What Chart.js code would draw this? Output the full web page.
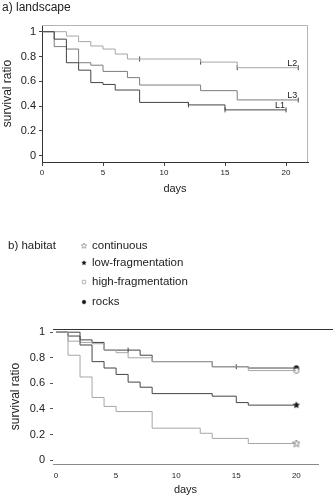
<!DOCTYPE html>
<html lang="en">
<head>
<meta charset="UTF-8">
<title>Survival ratio - landscape and habitat</title>
<script src="https://cdn.jsdelivr.net/npm/chart.js"></script>
<style>
  html, body { margin: 0; padding: 0; background: #fff; }
  body { width: 333px; height: 500px; position: relative; overflow: hidden; }
  .box { position: absolute; left: 0; width: 333px; }
  #boxA { top: 0; height: 200px; }
  #boxB { top: 225px; height: 275px; }
</style>
</head>
<body>
<div class="box" id="boxA"><canvas id="chartA"></canvas></div>
<div class="box" id="boxB"><canvas id="chartB"></canvas></div>

<script>
// ---- data ----
const xTicks = [0, 5, 10, 15, 20];
const yTicks = [0, 0.2, 0.4, 0.6, 0.8, 1];

// a) landscape
const l1Days = [0, 1, 2, 3, 4, 5, 6, 8, 12, 15, 20];
const l1Surv = [1, 0.94, 0.75, 0.69, 0.59, 0.575, 0.53, 0.43, 0.41, 0.37, 0.37];
const l2Days = [0, 2, 3, 4, 5, 6, 7, 13, 16, 21];
const l2Surv = [1, 0.965, 0.92, 0.885, 0.86, 0.82, 0.78, 0.755, 0.71, 0.71];
const l3Days = [0, 1, 2, 3, 4, 5, 7, 8, 13, 16, 21];
const l3Surv = [1, 0.88, 0.86, 0.75, 0.73, 0.68, 0.63, 0.57, 0.525, 0.45, 0.45];
const l1Cens = [12, 15, 20];
const l2Cens = [8, 13, 16, 21];
const l3Cens = [21];

// b) habitat
const habitatNames = ['continuous', 'low-fragmentation', 'high-fragmentation', 'rocks'];
const contDays = [0, 1, 2, 3, 4, 5, 8, 12, 13, 16, 20];
const contSurv = [1, 0.82, 0.65, 0.49, 0.42, 0.38, 0.25, 0.21, 0.17, 0.13, 0.13];
const lowDays = [0, 1, 2, 3, 4, 5, 6, 7, 8, 13, 15, 16, 20];
const lowSurv = [1, 0.97, 0.90, 0.77, 0.72, 0.67, 0.61, 0.57, 0.52, 0.50, 0.45, 0.43, 0.43];
const highDays = [0, 1, 2, 3, 4, 5, 6, 8, 13, 16, 20];
const highSurv = [1, 0.93, 0.92, 0.91, 0.86, 0.84, 0.80, 0.77, 0.73, 0.70, 0.70];
const rockDays = [0, 2, 3, 4, 7, 8, 13, 16, 20];
const rockSurv = [1, 0.94, 0.92, 0.86, 0.82, 0.77, 0.73, 0.72, 0.72];
const highCens = [15];
const rockCens = [6];

// ---- helpers ----
const FONT = "'Liberation Sans', Arial, sans-serif";
const light = '#a6a6a6', mid = '#7c7c7c', dark = '#454545';

function steps(days, vals) {
  return days.map((d, i) => ({ x: d, y: vals[i] }));
}
function valueAt(days, vals, day) {
  let v = vals[0];
  days.forEach((d, i) => { if (d <= day) v = vals[i]; });
  return v;
}
function curve(label, days, vals, color) {
  return { type: 'line', label, data: steps(days, vals), stepped: true,
    borderColor: color, borderWidth: 1, pointRadius: 0, fill: false };
}
function censor(days, vals, cens, color) {
  return { type: 'scatter', data: cens.map(d => ({ x: d, y: valueAt(days, vals, d) })),
    pointStyle: 'line', rotation: 90, pointRadius: 2.5, borderColor: color, borderWidth: 1 };
}
// "1", "0.8" ... "0" like the original axis
const tickText = v => String(+v.toFixed(1));

function makeMarker(kind, filled, size) {
  const c = document.createElement('canvas');
  c.width = size; c.height = size;
  const g = c.getContext('2d');
  g.translate(size / 2, size / 2);
  g.beginPath();
  if (kind === 'star') {
    for (let i = 0; i < 10; i++) {
      const r = i % 2 ? size * 0.22 : size * 0.48;
      const a = -Math.PI / 2 + i * Math.PI / 5;
      g.lineTo(r * Math.cos(a), r * Math.sin(a));
    }
  } else {
    g.arc(0, 0, size * 0.33, 0, Math.PI * 2);
  }
  g.closePath();
  if (filled) { g.fillStyle = '#111'; g.fill(); }
  else { g.fillStyle = '#fff'; g.fill(); g.strokeStyle = '#666'; g.lineWidth = 0.8; g.stroke(); }
  return c;
}

// ---- a) landscape ----
const landscapeLabels = {
  id: 'landscapeLabels',
  afterDraw(chart) {
    const { ctx, chartArea: a, scales: { x, y } } = chart;
    ctx.save();
    ctx.strokeStyle = '#b4b4b4';
    ctx.lineWidth = 1;
    ctx.beginPath();
    ctx.moveTo(a.left, a.top + 0.5);
    ctx.lineTo(a.right - 0.5, a.top + 0.5);
    ctx.lineTo(a.right - 0.5, a.bottom);
    ctx.stroke();
    ctx.fillStyle = '#222';
    ctx.textBaseline = 'middle';
    ctx.font = '12px ' + FONT;
    ctx.fillText('a) landscape', 2, 8);
    ctx.font = '9px ' + FONT;
    [['L1', l1Days, l1Surv], ['L2', l2Days, l2Surv], ['L3', l3Days, l3Surv]].forEach(([t, d, v]) => {
      const px = x.getPixelForValue(d[d.length - 1]);
      const py = y.getPixelForValue(v[v.length - 1]);
      ctx.fillText(t, px - 11, py - 4.5);
    });
    ctx.restore();
  }
};

new Chart(document.getElementById('chartA'), {
  data: {
    datasets: [
      curve('L1', l1Days, l1Surv, dark),
      curve('L2', l2Days, l2Surv, light),
      curve('L3', l3Days, l3Surv, mid),
      censor(l1Days, l1Surv, l1Cens, dark),
      censor(l2Days, l2Surv, l2Cens, dark),
      censor(l3Days, l3Surv, l3Cens, dark)
    ]
  },
  options: {
    responsive: true,
    maintainAspectRatio: false,
    animation: false,
    layout: { padding: { top: 25, right: 25, left: 0, bottom: 0 } },
    plugins: { legend: { display: false }, tooltip: { enabled: false } },
    scales: {
      x: {
        type: 'linear', min: 0, max: 21.8,
        afterBuildTicks: s => { s.ticks = xTicks.map(v => ({ value: v })); },
        afterFit: s => { s.height = 38; },
        ticks: { font: { family: FONT, size: 8 }, color: '#222', padding: 2, maxRotation: 0 },
        grid: { drawOnChartArea: false, tickLength: 4, color: '#444' },
        border: { color: '#333' },
        title: { display: true, text: 'days', color: '#222', font: { family: FONT, size: 11 }, padding: { top: 0, bottom: 4 } }
      },
      y: {
        type: 'linear', min: -0.05, max: 1.054,
        afterBuildTicks: s => { s.ticks = yTicks.map(v => ({ value: v })); },
        afterFit: s => { s.width = 42; },
        ticks: { font: { family: FONT, size: 11 }, color: '#222', padding: 3, callback: tickText },
        grid: { drawOnChartArea: false, tickLength: 3, color: '#444' },
        border: { color: '#333' },
        title: { display: true, text: 'survival ratio', color: '#222', font: { family: FONT, size: 12 }, padding: { top: 0, bottom: 0 } }
      }
    }
  },
  plugins: [landscapeLabels]
});

// ---- b) habitat ----
const markers = [
  makeMarker('star', false, 8),
  makeMarker('star', true, 8),
  makeMarker('circle', false, 8),
  makeMarker('circle', true, 8)
];
const habitatSeries = [
  [contDays, contSurv, light],
  [lowDays, lowSurv, dark],
  [highDays, highSurv, light],
  [rockDays, rockSurv, dark]
];

const habitatLegend = {
  id: 'habitatLegend',
  afterDraw(chart) {
    const { ctx, chartArea: a } = chart;
    ctx.save();
    ctx.strokeStyle = '#333';
    ctx.lineWidth = 1;
    ctx.beginPath();
    ctx.moveTo(a.left, a.top + 0.5);
    ctx.lineTo(chart.width, a.top + 0.5);
    ctx.stroke();
    ctx.fillStyle = '#222';
    ctx.textBaseline = 'middle';
    ctx.font = '11.5px ' + FONT;
    ctx.fillText('b) habitat', 8, 21);
    const rows = [21, 38, 57, 77];
    habitatNames.forEach((name, i) => {
      ctx.drawImage(markers[i], 81, rows[i] - 3, 6, 6);
      ctx.fillText(name, 92, rows[i]);
    });
    ctx.restore();
  }
};

const habitatSets = [];
habitatSeries.forEach(([d, v, c], i) => habitatSets.push(curve(habitatNames[i], d, v, c)));
habitatSeries.forEach(([d, v], i) => habitatSets.push({
  type: 'scatter', data: [{ x: d[d.length - 1], y: v[v.length - 1] }],
  pointStyle: markers[i], pointRadius: 4
}));
habitatSets.push(censor(highDays, highSurv, highCens, dark));
habitatSets.push(censor(rockDays, rockSurv, rockCens, dark));

new Chart(document.getElementById('chartB'), {
  data: { datasets: habitatSets },
  options: {
    responsive: true,
    maintainAspectRatio: false,
    animation: false,
    layout: { padding: { top: 104, right: 15, left: 0, bottom: 0 } },
    plugins: { legend: { display: false }, tooltip: { enabled: false } },
    scales: {
      x: {
        type: 'linear', min: -0.25, max: 21.8,
        afterBuildTicks: s => { s.ticks = xTicks.map(v => ({ value: v })); },
        afterFit: s => { s.height = 36; },
        ticks: { font: { family: FONT, size: 8 }, color: '#222', padding: 7, maxRotation: 0 },
        grid: { drawOnChartArea: false, drawTicks: false },
        border: { color: '#8a8a8a' },
        title: { display: true, text: 'days', color: '#222', font: { family: FONT, size: 11 }, padding: { top: 0, bottom: 3 } }
      },
      y: {
        type: 'linear', min: -0.03, max: 1.025,
        afterBuildTicks: s => { s.ticks = yTicks.map(v => ({ value: v })); },
        afterFit: s => { s.width = 53; },
        ticks: { font: { family: FONT, size: 11 }, color: '#222', padding: 5, callback: tickText },
        grid: { drawOnChartArea: false, tickLength: 3, color: '#555' },
        border: { display: false },
        title: { display: true, text: 'survival ratio', color: '#222', font: { family: FONT, size: 12 }, padding: { top: 8, bottom: 0 } }
      }
    }
  },
  plugins: [habitatLegend]
});
</script>
</body>
</html>
